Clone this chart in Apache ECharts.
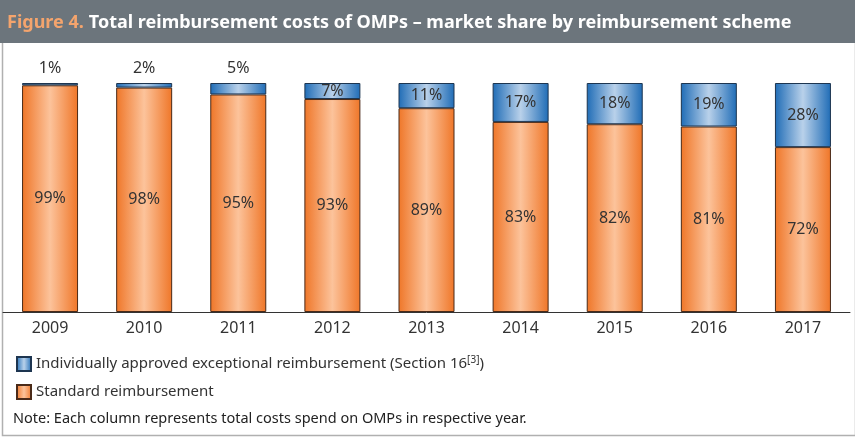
<!DOCTYPE html>
<html><head><meta charset="utf-8">
<script src="https://cdn.jsdelivr.net/npm/echarts@6/dist/echarts.min.js"></script>
<style>html,body{margin:0;padding:0;background:#fff}#c{width:855px;height:438px}</style>
</head><body><div id="c"></div>
<script>
const years = ['2009','2010','2011','2012','2013','2014','2015','2016','2017'];
const standard = [99, 98, 95, 93, 89, 83, 82, 81, 72];
const exceptional = [1, 2, 5, 7, 11, 17, 18, 19, 28];
const smallLabelMax = 5;

const font = '"Noto Sans", sans-serif';
function grad(edge, mid){
  return new echarts.graphic.LinearGradient(0,0,1,0,[
    {offset:0,color:edge},{offset:0.5,color:mid},{offset:1,color:edge}]);
}
const chart = echarts.init(document.getElementById('c'));
chart.setOption({
  animation:false,
  graphic:[
    {type:'rect',left:0,top:0,shape:{width:855,height:43},style:{fill:'#6c757c'},z:-1},
    {type:'rect',left:0,top:0,shape:{width:853,height:433},style:{fill:'none',stroke:'#b0b0b0',lineWidth:1.5},z:-2},
    {type:'text',left:13,top:411,style:{text:'Note: Each column represents total costs spend on OMPs in respective year.',font:'14.5px '+font,fill:'#222'}}
  ],
  title:{
    text:'{o|Figure 4.} {w|Total reimbursement costs of OMPs – market share by reimbursement scheme}',
    left:2, top:9,
    textStyle:{rich:{
      o:{color:'#f4a46d',fontSize:18,fontWeight:'bold',fontFamily:font},
      w:{color:'#ffffff',fontSize:18,fontWeight:'bold',fontFamily:font}
    }}
  },
  legend:{
    orient:'vertical', left:11, top:350, itemWidth:14, itemHeight:14, itemGap:12, icon:'rect',
    data:['Individually approved exceptional reimbursement (Section 16)','Standard reimbursement'],
    formatter:function(n){
      if(n.indexOf('Section')>=0) return '{a|Individually approved exceptional reimbursement (Section 16}{s|[3]}{a|)}';
      return '{a|'+n+'}';
    },
    textStyle:{rich:{
      a:{fontSize:15,color:'#333',fontFamily:font},
      s:{fontSize:10,color:'#333',fontFamily:font,verticalAlign:'top',padding:[0,0,8,0]}
    }}
  },
  grid:{left:3,right:5,top:83,bottom:126},
  xAxis:{type:'category',data:years,
    axisLine:{lineStyle:{color:'#333',width:1}},axisTick:{show:false},
    axisLabel:{color:'#333',fontSize:16,fontFamily:font,margin:8}},
  yAxis:{type:'value',min:0,max:100,show:false},
  series:[
    {name:'Standard reimbursement',type:'bar',stack:'t',barWidth:56,data:standard,
      itemStyle:{color:grad('#ef7628','#fcc39b'),borderColor:'#4a2a18',borderWidth:1},
      label:{show:true,position:'inside',formatter:'{c}%',color:'#333',fontSize:16,fontFamily:font}},
    {name:'Individually approved exceptional reimbursement (Section 16)',type:'bar',stack:'t',barWidth:56,
      data:exceptional.map(v=>({value:v,label:v<=smallLabelMax?{position:'top',distance:7}:{position:'inside'}})),
      itemStyle:{color:grad('#1f6cb6','#b9d1ea'),borderColor:'#1d3550',borderWidth:1},
      label:{show:true,formatter:'{c}%',color:'#333',fontSize:16,fontFamily:font}}
  ]
});
</script></body></html>
